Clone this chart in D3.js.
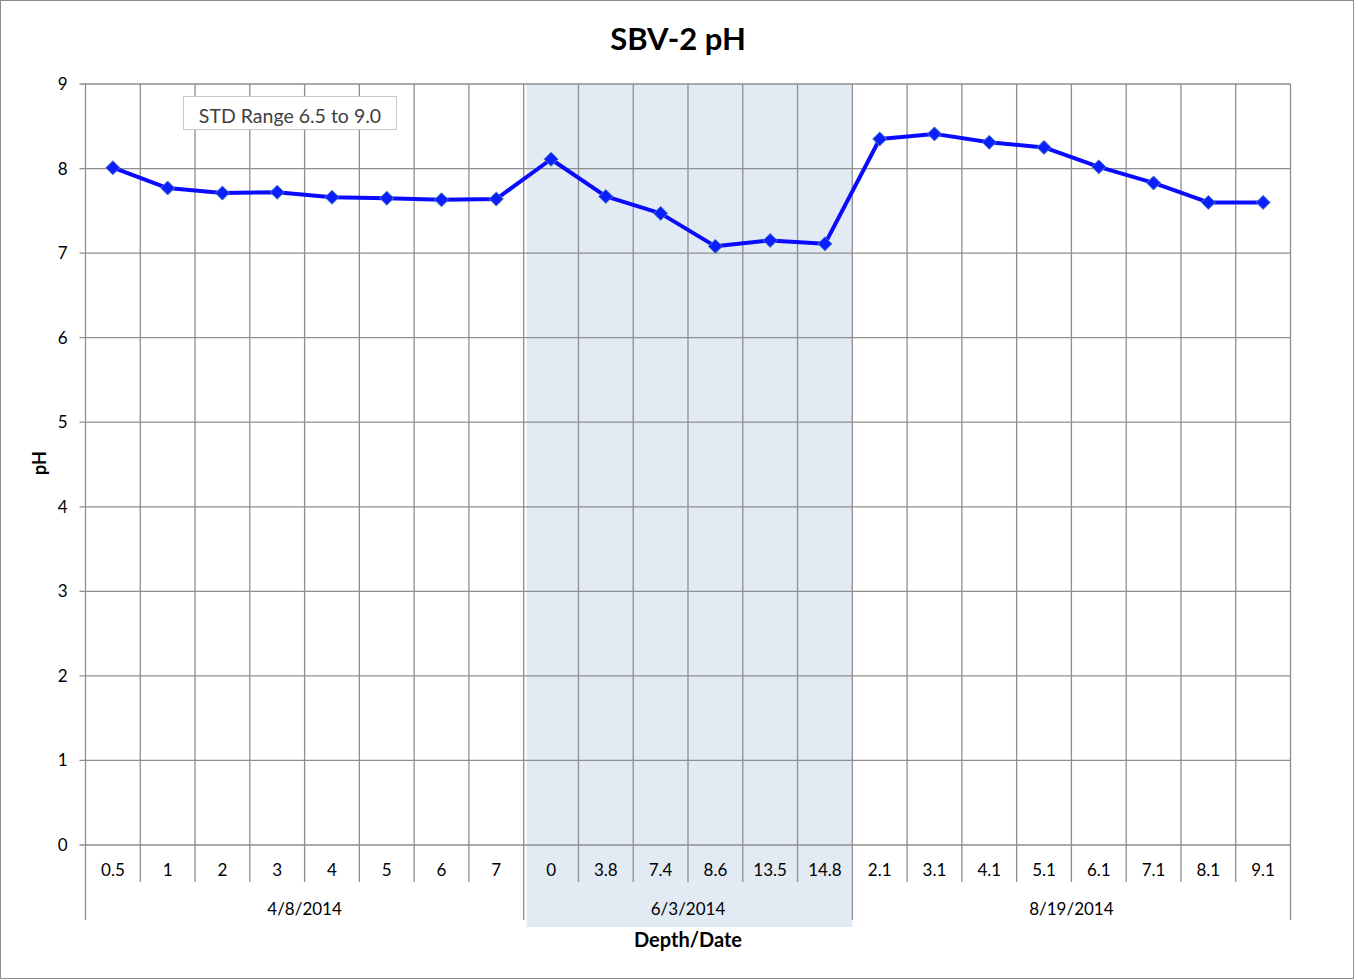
<!DOCTYPE html>
<html>
<head>
<meta charset="utf-8">
<script src="https://cdn.jsdelivr.net/npm/d3@7"></script>
<style>
  body { margin: 0; background: #fff; }
  svg { display: block; font-family: Lato, "Open Sans", sans-serif; }
</style>
</head>
<body>
<script>
// Chart data
const depthLabels = ["0.5", "1", "2", "3", "4", "5", "6", "7",
                     "0", "3.8", "7.4", "8.6", "13.5", "14.8",
                     "2.1", "3.1", "4.1", "5.1", "6.1", "7.1", "8.1", "9.1"];
const phValues = [8.01, 7.77, 7.71, 7.72, 7.66, 7.65, 7.63, 7.64,
                  8.11, 7.67, 7.47, 7.08, 7.15, 7.11,
                  8.35, 8.41, 8.31, 8.25, 8.02, 7.83, 7.60, 7.60];
const dateGroups = ["4/8/2014", "6/3/2014", "8/19/2014"];
const groupSizes = [8, 6, 8];
const shadedGroup = "6/3/2014";
const yTicks = [0, 1, 2, 3, 4, 5, 6, 7, 8, 9];

const width = 1358, height = 980;
const margin = { top: 84, right: 67.5, bottom: 135, left: 85.5 };
const plotW = width - margin.left - margin.right;
const plotH = height - margin.top - margin.bottom;

const svg = d3.select("body").append("svg")
    .attr("width", width)
    .attr("height", height);

// outer frame
svg.append("rect")
    .attr("x", 0.5).attr("y", 0.5)
    .attr("width", 1353).attr("height", 978)
    .attr("fill", "#fff")
    .attr("stroke", "#8c8c8c");

const g = svg.append("g")
    .attr("transform", "translate(" + margin.left + "," + margin.top + ")");

const xScale = d3.scaleBand()
    .domain(d3.range(depthLabels.length))
    .range([0, plotW]);
const bw = xScale.bandwidth();

const yScale = d3.scaleLinear()
    .domain([0, 9])
    .range([plotH, 0]);

// group start indices
let starts = [];
let acc = 0;
groupSizes.forEach(n => { starts.push(acc); acc += n; });

// shaded band behind the middle group
const si = dateGroups.indexOf(shadedGroup);
g.append("rect")
    .attr("x", xScale(starts[si]) + 3)
    .attr("y", 0)
    .attr("width", bw * groupSizes[si] - 3)
    .attr("height", plotH + 82)
    .attr("fill", "#e2eaf4");

const gridColor = "#8e8e8e";

// horizontal gridlines
g.append("g")
    .selectAll("line")
    .data(yTicks)
    .join("line")
    .attr("x1", -6).attr("x2", plotW)
    .attr("y1", d => yScale(d)).attr("y2", d => yScale(d))
    .attr("stroke", gridColor).attr("stroke-width", 1.3);

// vertical gridlines at category boundaries
const bounds = d3.range(depthLabels.length + 1);
const groupBounds = [0].concat(starts.slice(1)).concat([depthLabels.length]);
g.append("g")
    .selectAll("line")
    .data(bounds)
    .join("line")
    .attr("x1", d => d * bw).attr("x2", d => d * bw)
    .attr("y1", 0)
    .attr("y2", d => groupBounds.includes(d) ? plotH + 75 : plotH + 37)
    .attr("stroke", gridColor).attr("stroke-width", 1.3);

// y tick labels
g.append("g")
    .selectAll("text")
    .data(yTicks)
    .join("text")
    .attr("x", -18)
    .attr("y", d => yScale(d))
    .attr("dy", "0.35em")
    .attr("text-anchor", "end")
    .attr("font-size", 17)
    .attr("fill", "#000")
    .text(d => d);

// category labels
g.append("g")
    .selectAll("text")
    .data(depthLabels)
    .join("text")
    .attr("x", (d, i) => xScale(i) + bw / 2)
    .attr("y", plotH + 25)
    .attr("dy", "0.35em")
    .attr("text-anchor", "middle")
    .attr("font-size", 17)
    .text(d => d);

// group (date) labels
g.append("g")
    .selectAll("text")
    .data(dateGroups)
    .join("text")
    .attr("x", (d, i) => xScale(starts[i]) + bw * groupSizes[i] / 2)
    .attr("y", plotH + 64)
    .attr("dy", "0.35em")
    .attr("text-anchor", "middle")
    .attr("font-size", 17)
    .text(d => d);

// line
const line = d3.line()
    .x((d, i) => xScale(i) + bw / 2)
    .y(d => yScale(d));

g.append("path")
    .datum(phValues)
    .attr("fill", "none")
    .attr("stroke", "#0a0aff")
    .attr("stroke-width", 4)
    .attr("stroke-linejoin", "round")
    .attr("d", line);

// diamond markers
g.append("g")
    .selectAll("path")
    .data(phValues)
    .join("path")
    .attr("transform", (d, i) => "translate(" + (xScale(i) + bw / 2) + "," + yScale(d) + ")")
    .attr("d", d3.symbol().type(d3.symbolDiamond2).size(125))
    .attr("fill", "#0a1eff")
    .attr("stroke", "#4a7ebb")
    .attr("stroke-width", 1);

// STD range box
const box = svg.append("g").attr("transform", "translate(183.5,96.5)");
box.append("rect")
    .attr("width", 213).attr("height", 33)
    .attr("fill", "#fff")
    .attr("stroke", "#c8c8c8");
box.append("text")
    .attr("x", 106.5).attr("y", 19.5)
    .attr("dy", "0.35em")
    .attr("text-anchor", "middle")
    .attr("font-size", 19.5)
    .attr("fill", "#404040")
    .text("STD Range 6.5 to 9.0");

// title
svg.append("text")
    .attr("x", 678).attr("y", 39)
    .attr("dy", "0.35em")
    .attr("text-anchor", "middle")
    .attr("font-size", 31)
    .attr("font-weight", "bold")
    .text("SBV-2 pH");

// axis titles
svg.append("text")
    .attr("x", margin.left + plotW / 2).attr("y", 940)
    .attr("dy", "0.35em")
    .attr("text-anchor", "middle")
    .attr("font-size", 20)
    .attr("font-weight", "bold")
    .text("Depth/Date");

svg.append("text")
    .attr("transform", "translate(40,463) rotate(-90)")
    .attr("dy", "0.35em")
    .attr("text-anchor", "middle")
    .attr("font-size", 18)
    .attr("font-weight", "bold")
    .text("pH");
</script>
</body>
</html>
